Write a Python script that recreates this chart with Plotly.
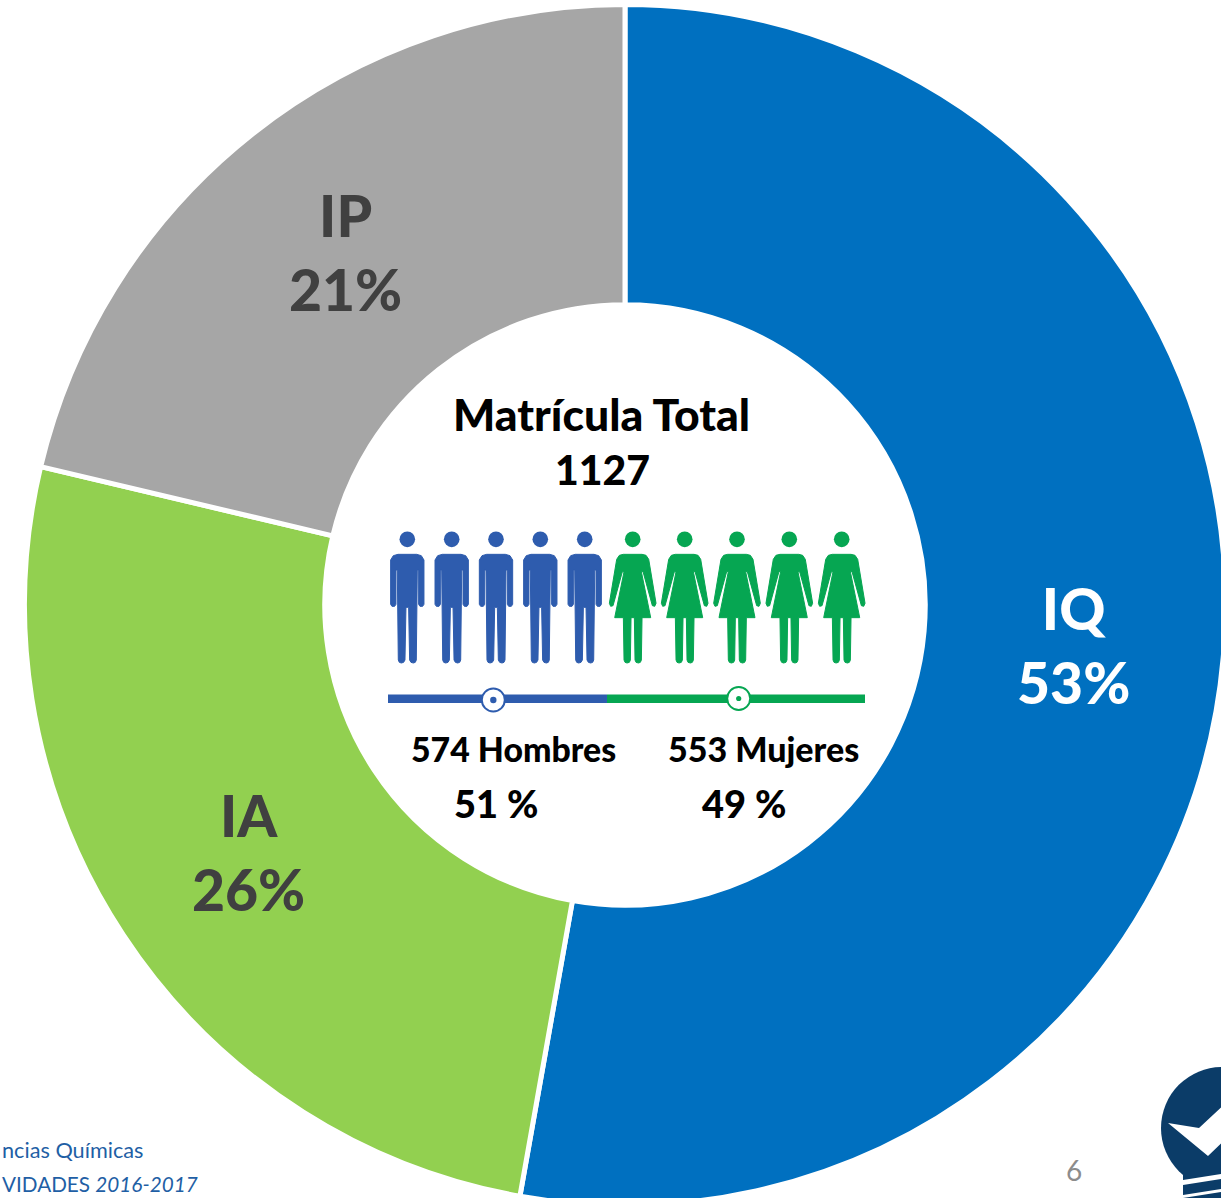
import plotly.graph_objects as go

# Data
categories = ["IQ", "IA", "IP"]
shares = [52.8, 25.9, 21.3]
slice_colors = ["#0070C0", "#92D050", "#A6A6A6"]
label_colors = ["#FFFFFF", "#404040", "#404040"]
center_title = "Matrícula Total"
center_total = "1127"
men_label, men_share = "574 Hombres", "51 %"
women_label, women_share = "553 Mujeres", "49 %"
men_icons_x = [407.3, 451.7, 496.0, 540.3, 584.7]
women_icons_x = [632.7, 684.7, 737.0, 789.3, 841.7]
BLUE, GREEN, NAVY = "#2E5CAE", "#06A652", "#0B3C68"

W, H = 1240, 1210
FONT = "Lato"
HEAVY = 900


def px(x):
    return x / W


def py(y):
    return 1 - y / H


def path(points):
    out = []
    for p in points:
        cmd, vals = p[0], p[1:]
        coords = []
        for i in range(0, len(vals), 2):
            coords.append(f"{px(vals[i]):.5f},{py(vals[i+1]):.5f}")
        out.append(cmd + " ".join(coords))
    return " ".join(out) + " Z"


def circle(cx, cy, r, fill, line=None, lw=0):
    return dict(type="circle", xref="paper", yref="paper",
                x0=px(cx - r), x1=px(cx + r), y0=py(cy + r), y1=py(cy - r),
                fillcolor=fill, line=dict(color=line or fill, width=lw))


def poly(points, fill, lw=0):
    return dict(type="path", xref="paper", yref="paper", path=path(points),
                fillcolor=fill, line=dict(width=lw, color=fill))


def rect(x0, y0, x1, y1, fill):
    return dict(type="rect", xref="paper", yref="paper", x0=px(x0), x1=px(x1),
                y0=py(y1), y1=py(y0), fillcolor=fill, line=dict(width=0))


def figure_shape(cx, side, color):
    f = lambda dx, y: (cx + dx / 3, 510 + y / 3)
    pts = side + [(-a, b) for a, b in reversed(side)]
    seq = [("M",) + f(*pts[0])] + [("L",) + f(*q) for q in pts[1:]]
    return [circle(cx, 510 + 88 / 3, 7.8, color), poly(seq, color, 1)]


def man(cx):
    side = [(28, 133), (42, 137), (50, 150), (50, 283), (46, 289), (38, 289), (34, 283), (34, 180), (30, 180),
            (27, 450), (24, 457), (18, 459), (11, 457), (7, 450), (4, 292)]
    return figure_shape(cx, side, BLUE)


def woman(cx):
    side = [(28, 133), (40, 136), (48, 148), (70, 280), (66, 289), (59, 287), (31, 185), (26, 185),
            (54, 323), (28, 323), (26, 450), (23, 457), (17, 459), (10, 457), (7, 450), (5, 323)]
    return figure_shape(cx, side, GREEN)


shapes = []
for x in men_icons_x:
    shapes += man(x)
for x in women_icons_x:
    shapes += woman(x)
shapes += [
    rect(388, 694.5, 607, 703, BLUE),
    rect(607, 694.5, 865, 703, GREEN),
    circle(493.3, 700, 11.5, "#FFFFFF", BLUE, 2),
    circle(493.3, 700, 3.2, BLUE),
    circle(738.7, 698.5, 11.5, "#FFFFFF", GREEN, 2),
    circle(738.7, 698.5, 2.6, GREEN),
]
# logo, cut by the right edge
shapes += [
    circle(1222, 1128, 61, NAVY),
    rect(1183, 1155, 1240, 1198, NAVY),
    poly([("M", 1168, 1123), ("L", 1199, 1128), ("L", 1240, 1090), ("L", 1240, 1125), ("L", 1208, 1156)], "#FFFFFF"),
    poly([("M", 1183, 1180), ("L", 1240, 1171), ("L", 1240, 1176), ("L", 1183, 1185)], "#FFFFFF"),
    poly([("M", 1183, 1195), ("L", 1240, 1186), ("L", 1240, 1189), ("L", 1183, 1198)], "#FFFFFF"),
]


def note(text, x, y, size, color="#000000", weight=HEAVY, anchor="center"):
    return dict(text=text, xref="paper", yref="paper",
                x=px(x), y=py(y), xanchor=anchor, yanchor="middle", showarrow=False,
                font=dict(family=FONT, size=size, color=color, weight=weight))


annotations = [
    note(center_title, 601.5, 413.5, 44.5),
    note(center_total, 602, 469, 41),
    note(men_label, 513, 748.5, 33.8),
    note(women_label, 763, 748.5, 34),
    note(men_share, 496, 802.5, 38),
    note(women_share, 744, 802.5, 38),
    note("ncias Químicas", 0, 1150, 21.7, "#1F5FA5", 400, "left"),
    note("VIDADES <i>2016-2017</i>", 0, 1184, 20.7, "#1F5FA5", 400, "left"),
    note("6", 1074, 1170, 28, "#8C8C8C", 400),
]

fig = go.Figure(go.Pie(
    labels=categories,
    values=shares,
    sort=False,
    direction="clockwise",
    rotation=0,
    hole=0.5,
    domain=dict(x=[24.5 / W, 1225.5 / W], y=[1 - 1205.5 / H, 1 - 4.5 / H]),
    marker=dict(colors=slice_colors, line=dict(color="#FFFFFF", width=5)),
    texttemplate="%{label}<br>%{percent:.0%}",
    textposition="inside",
    insidetextorientation="horizontal",
    insidetextfont=dict(family=FONT, size=57, color=label_colors, weight=HEAVY),
    showlegend=False,
))
fig.update_layout(
    width=W, height=H,
    margin=dict(l=0, r=0, t=0, b=0),
    paper_bgcolor="#FFFFFF",
    shapes=shapes,
    annotations=annotations,
)
fig.write_html(
    "out.html",
    config={"displayModeBar": False},
    post_script="document.body.style.margin='0';document.documentElement.style.overflow='hidden';document.body.style.overflow='hidden';",
)
